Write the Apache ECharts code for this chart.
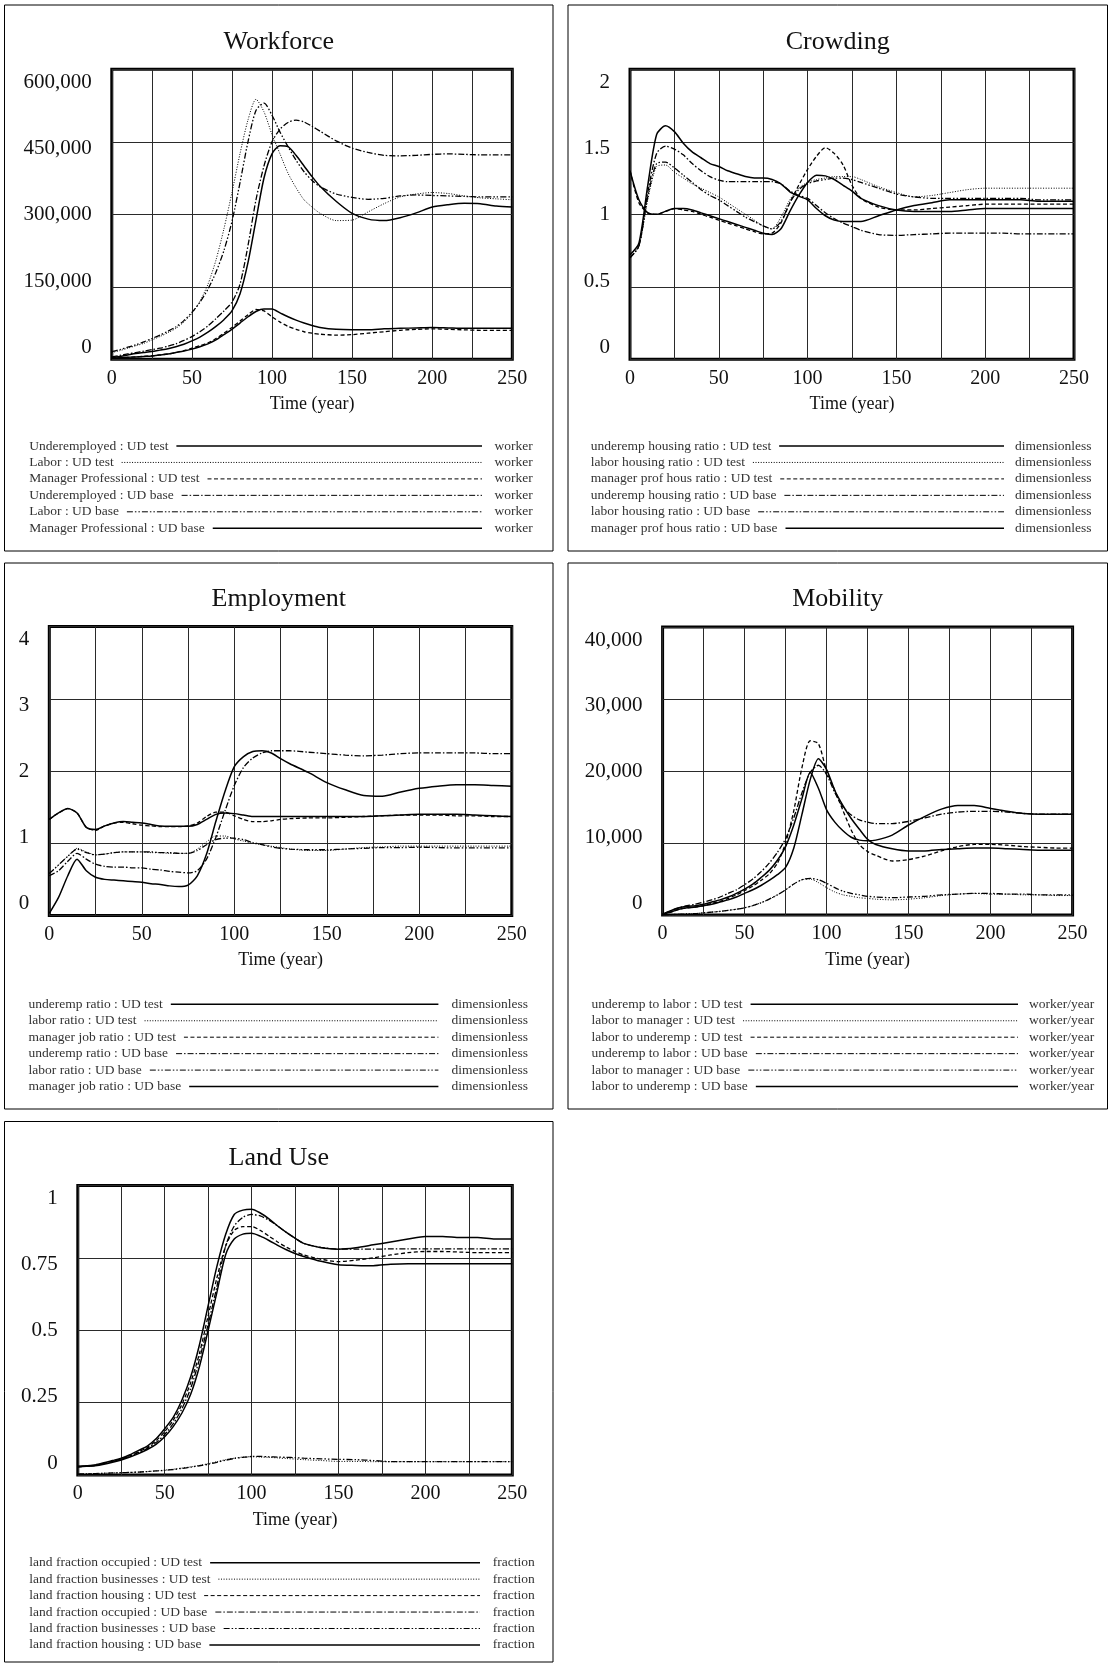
<!DOCTYPE html>
<html><head><meta charset="utf-8">
<script src="https://cdn.jsdelivr.net/npm/echarts@6/dist/echarts.min.js"></script>
<style>html,body{margin:0;padding:0;background:#fff}#c{width:1109px;height:1663px}</style>
</head><body><div id="c"></div>
<script>
// ---------------- DATA ----------------
const TIME = [0,5,10,15,20,25,30,35,40,45,50,55,60,65,70,75,80,85,90,95,100,105,110,115,120,125,130,140,150,160,170,180,190,200,210,220,230,240,250];
const X_TICKS = [0,50,100,150,200,250];

// Workforce (thousand workers)
const WF_TITLE = 'Workforce';
const WF_UNIT = 'worker';
const WF_Y_TICKS = ['0','150,000','300,000','450,000','600,000'];
const WF_NAMES = ['Underemployed : UD test','Labor : UD test','Manager Professional : UD test','Underemployed : UD base','Labor : UD base','Manager Professional : UD base'];
const WF_UNDEREMP_TEST = [3,6,9,12,14,16,19,22,26,31,38,46,56,68,82,100,135,200,288,375,425,442,440,422,400,378,358,327,302,290,287,293,303,315,320,323,322,317,315];
const WF_LABOR_TEST    = [14,18,23,28,33,40,47,55,64,77,95,120,155,205,270,345,425,495,538,512,465,425,385,355,330,315,302,287,288,305,322,336,342,345,343,338,334,332,330];
const WF_MANAGER_TEST  = [2,3,4,5,6,7,9,11,14,18,23,28,34,43,54,66,79,92,103,100,88,77,68,62,57,54,52,50,51,54,57,60,62,63,62,61,60,60,60];
const WF_UNDEREMP_BASE = [5,8,11,14,17,20,23,27,32,39,47,57,69,84,100,118,155,235,330,400,450,476,490,495,491,482,472,452,437,428,422,421,422,424,425,424,423,423,423];
const WF_LABOR_BASE    = [16,20,25,30,36,43,50,58,67,80,97,118,145,180,225,285,365,450,515,530,505,470,440,412,388,370,357,342,335,331,333,338,340,339,338,337,336,336,336];
const WF_MANAGER_BASE  = [2,3,4,5,6,7,9,11,14,17,21,26,32,40,51,62,75,88,99,104,104,96,88,81,75,70,66,62,61,61,63,64,65,66,65,64,64,64,64];

// Crowding (dimensionless)
const CR_TITLE = 'Crowding';
const CR_UNIT = 'dimensionless';
const CR_Y_TICKS = ['0','0.5','1','1.5','2'];
const CR_NAMES = ['underemp housing ratio : UD test','labor housing ratio : UD test','manager prof hous ratio : UD test','underemp housing ratio : UD base','labor housing ratio : UD base','manager prof hous ratio : UD base'];
const CR_UNDEREMP_TEST = [0.72,0.80,1.20,1.55,1.61,1.57,1.49,1.43,1.39,1.35,1.33,1.30,1.28,1.26,1.25,1.25,1.24,1.21,1.155,1.125,1.10,1.04,0.99,0.96,0.95,0.95,0.95,0.99,1.03,1.06,1.08,1.10,1.10,1.10,1.10,1.10,1.09,1.09,1.09];
const CR_LABOR_TEST    = [0.70,0.78,1.10,1.33,1.34,1.29,1.25,1.21,1.18,1.15,1.12,1.08,1.04,1.00,0.96,0.92,0.90,0.98,1.10,1.18,1.22,1.24,1.25,1.26,1.26,1.26,1.24,1.19,1.15,1.12,1.13,1.15,1.17,1.18,1.18,1.18,1.18,1.18,1.18];
const CR_MANAGER_TEST  = [1.30,1.08,1.01,1.00,1.02,1.04,1.03,1.02,1.00,0.98,0.96,0.94,0.92,0.90,0.88,0.865,0.87,0.94,1.08,1.20,1.31,1.40,1.46,1.42,1.34,1.20,1.11,1.05,1.03,1.03,1.04,1.05,1.06,1.07,1.07,1.07,1.07,1.07,1.07];
const CR_UNDEREMP_BASE = [0.70,0.78,1.15,1.42,1.47,1.45,1.41,1.35,1.30,1.26,1.235,1.225,1.225,1.225,1.225,1.225,1.225,1.21,1.16,1.13,1.11,1.06,1.01,0.97,0.94,0.915,0.89,0.86,0.855,0.86,0.865,0.87,0.87,0.87,0.87,0.865,0.865,0.865,0.865];
const CR_LABOR_BASE    = [0.70,0.78,1.12,1.35,1.36,1.32,1.27,1.22,1.17,1.13,1.10,1.06,1.02,0.98,0.95,0.92,0.90,0.95,1.08,1.17,1.21,1.23,1.24,1.25,1.25,1.24,1.22,1.18,1.14,1.12,1.11,1.11,1.11,1.11,1.11,1.11,1.10,1.10,1.10];
const CR_MANAGER_BASE  = [1.30,1.10,1.01,1.00,1.02,1.04,1.04,1.03,1.01,0.99,0.97,0.95,0.93,0.91,0.89,0.87,0.86,0.90,1.02,1.13,1.22,1.27,1.265,1.24,1.20,1.16,1.11,1.06,1.03,1.02,1.02,1.02,1.03,1.04,1.04,1.04,1.04,1.04,1.04];

// Employment (dimensionless)
const EM_TITLE = 'Employment';
const EM_UNIT = 'dimensionless';
const EM_Y_TICKS = ['0','1','2','3','4'];
const EM_NAMES = ['underemp ratio : UD test','labor ratio : UD test','manager job ratio : UD test','underemp ratio : UD base','labor ratio : UD base','manager job ratio : UD base'];
const EM_UNDEREMP_TEST = [0.03,0.25,0.55,0.78,0.62,0.53,0.50,0.49,0.48,0.47,0.46,0.44,0.43,0.41,0.40,0.42,0.55,0.85,1.30,1.72,2.06,2.20,2.27,2.28,2.25,2.17,2.10,1.98,1.84,1.74,1.66,1.65,1.71,1.76,1.79,1.81,1.81,1.80,1.79];
const EM_LABOR_TEST    = [0.58,0.70,0.82,0.93,0.88,0.84,0.85,0.87,0.88,0.88,0.88,0.87,0.87,0.86,0.86,0.86,0.92,1.02,1.10,1.10,1.06,1.03,1.00,0.98,0.96,0.94,0.92,0.90,0.90,0.92,0.94,0.95,0.96,0.96,0.96,0.96,0.96,0.96,0.96];
const EM_MANAGER_TEST  = [1.33,1.42,1.48,1.42,1.22,1.18,1.24,1.28,1.29,1.27,1.25,1.24,1.23,1.23,1.23,1.24,1.28,1.37,1.43,1.43,1.38,1.33,1.30,1.30,1.31,1.33,1.34,1.35,1.35,1.36,1.37,1.38,1.39,1.39,1.39,1.38,1.38,1.37,1.37];
const EM_UNDEREMP_BASE = [0.55,0.62,0.75,0.86,0.78,0.71,0.68,0.67,0.67,0.66,0.66,0.64,0.63,0.61,0.60,0.59,0.62,0.78,1.08,1.45,1.80,2.05,2.18,2.25,2.28,2.28,2.28,2.26,2.24,2.22,2.21,2.22,2.24,2.25,2.25,2.25,2.25,2.24,2.24];
const EM_LABOR_BASE    = [0.58,0.70,0.82,0.92,0.87,0.84,0.85,0.87,0.88,0.88,0.88,0.88,0.87,0.87,0.86,0.86,0.90,0.98,1.05,1.07,1.07,1.05,1.01,0.98,0.95,0.93,0.92,0.91,0.91,0.92,0.93,0.94,0.94,0.945,0.94,0.935,0.935,0.935,0.935];
const EM_MANAGER_BASE  = [1.33,1.42,1.48,1.42,1.22,1.19,1.24,1.28,1.30,1.29,1.28,1.26,1.24,1.235,1.235,1.235,1.26,1.33,1.40,1.42,1.41,1.39,1.37,1.37,1.37,1.37,1.37,1.37,1.37,1.37,1.37,1.38,1.39,1.40,1.40,1.40,1.39,1.38,1.37];

// Mobility (thousand worker/year)
const MO_TITLE = 'Mobility';
const MO_UNIT = 'worker/year';
const MO_Y_TICKS = ['0','10,000','20,000','30,000','40,000'];
const MO_NAMES = ['underemp to labor : UD test','labor to manager : UD test','labor to underemp : UD test','underemp to labor : UD base','labor to manager : UD base','labor to underemp : UD base'];
const MO_UNDEREMP_TO_LABOR_TEST = [0.1,0.6,1.0,1.2,1.3,1.5,1.8,2.1,2.5,3.0,3.6,4.3,5.2,6.2,7.6,9.5,12.5,16.2,19.8,17.6,14.6,12.9,11.7,10.8,10.4,10.3,10.4,11.1,12.5,13.7,14.7,15.2,15.2,14.8,14.4,14.1,14.0,14.0,14.0];
const MO_LABOR_TO_MANAGER_TEST  = [0,0.05,0.1,0.15,0.2,0.3,0.4,0.5,0.65,0.8,1.0,1.3,1.7,2.2,2.8,3.5,4.3,4.9,5.0,4.5,3.8,3.2,2.8,2.6,2.4,2.3,2.2,2.1,2.2,2.4,2.7,2.9,3.0,2.9,2.9,2.8,2.8,2.7,2.7];
const MO_LABOR_TO_UNDEREMP_TEST = [0.1,0.4,0.8,1.0,1.1,1.3,1.6,1.9,2.3,2.8,3.4,4.0,4.8,5.7,7.2,10.0,14.5,20.5,24.2,23.8,20.0,17.3,14.5,11.8,9.8,8.8,8.3,7.5,7.7,8.2,8.9,9.5,9.8,9.8,9.7,9.5,9.4,9.3,9.3];
const MO_UNDEREMP_TO_LABOR_BASE = [0.1,0.6,1.0,1.3,1.5,1.8,2.1,2.5,3.0,3.5,4.2,5.0,6.0,7.2,8.7,10.6,13.5,17.0,19.8,20.8,19.5,17.0,15.0,13.9,13.2,12.9,12.7,12.7,13.0,13.5,14.0,14.3,14.4,14.4,14.3,14.1,14.0,14.0,14.0];
const MO_LABOR_TO_MANAGER_BASE  = [0,0.05,0.1,0.15,0.2,0.3,0.4,0.5,0.65,0.8,1.0,1.3,1.7,2.2,2.8,3.5,4.3,4.9,5.1,4.9,4.4,3.8,3.3,3.0,2.8,2.6,2.5,2.4,2.5,2.6,2.8,2.9,3.0,3.0,2.9,2.9,2.8,2.8,2.8];
const MO_LABOR_TO_UNDEREMP_BASE = [0.1,0.4,0.8,1.0,1.1,1.3,1.5,1.8,2.1,2.5,3.0,3.5,4.1,4.8,5.6,6.6,9.3,14.0,18.8,21.7,20.2,17.3,15.2,13.4,11.9,10.5,9.8,9.2,8.9,8.9,9.1,9.2,9.3,9.3,9.2,9.1,9.0,9.0,9.0];

// Land Use (fraction)
const LU_TITLE = 'Land Use';
const LU_UNIT = 'fraction';
const LU_Y_TICKS = ['0','0.25','0.5','0.75','1'];
const LU_NAMES = ['land fraction occupied : UD test','land fraction businesses : UD test','land fraction housing : UD test','land fraction occupied : UD base','land fraction businesses : UD base','land fraction housing : UD base'];
const LU_OCCUPIED_TEST   = [0.030,0.032,0.035,0.042,0.050,0.058,0.070,0.085,0.100,0.125,0.160,0.200,0.260,0.340,0.450,0.585,0.720,0.830,0.900,0.915,0.918,0.905,0.885,0.860,0.838,0.818,0.800,0.785,0.780,0.785,0.795,0.805,0.815,0.824,0.824,0.820,0.820,0.815,0.815];
const LU_BUSINESSES_TEST = [0.003,0.004,0.005,0.006,0.007,0.008,0.009,0.010,0.012,0.014,0.017,0.020,0.024,0.028,0.033,0.039,0.046,0.053,0.058,0.062,0.063,0.062,0.061,0.059,0.057,0.055,0.053,0.050,0.047,0.047,0.046,0.046,0.046,0.046,0.046,0.046,0.046,0.046,0.046];
const LU_HOUSING_TEST    = [0.028,0.030,0.033,0.040,0.048,0.056,0.067,0.080,0.095,0.118,0.150,0.190,0.245,0.320,0.420,0.550,0.680,0.790,0.845,0.858,0.858,0.845,0.825,0.805,0.787,0.772,0.760,0.745,0.737,0.742,0.750,0.760,0.768,0.772,0.772,0.770,0.768,0.768,0.768];
const LU_OCCUPIED_BASE   = [0.030,0.031,0.034,0.040,0.047,0.055,0.065,0.078,0.092,0.112,0.140,0.178,0.230,0.300,0.400,0.520,0.650,0.790,0.860,0.890,0.900,0.895,0.880,0.860,0.838,0.818,0.800,0.786,0.780,0.780,0.780,0.781,0.781,0.781,0.781,0.781,0.781,0.781,0.781];
const LU_BUSINESSES_BASE = [0.003,0.004,0.005,0.006,0.007,0.008,0.009,0.010,0.012,0.014,0.016,0.019,0.023,0.027,0.032,0.037,0.044,0.051,0.057,0.061,0.064,0.064,0.063,0.062,0.061,0.060,0.058,0.056,0.054,0.053,0.050,0.046,0.046,0.046,0.046,0.046,0.046,0.046,0.046];
const LU_HOUSING_BASE    = [0.028,0.030,0.032,0.037,0.044,0.052,0.062,0.074,0.088,0.106,0.132,0.168,0.215,0.280,0.375,0.500,0.630,0.760,0.815,0.832,0.835,0.825,0.810,0.793,0.778,0.765,0.755,0.738,0.726,0.724,0.723,0.728,0.730,0.730,0.730,0.730,0.730,0.730,0.730];

// ---------------- PANELS (data wiring) ----------------
const PANELS = [
  {title: WF_TITLE, unit: WF_UNIT, yMax: 600000, yTicks: WF_Y_TICKS, names: WF_NAMES, scale: 1000,
   series: [WF_UNDEREMP_TEST, WF_LABOR_TEST, WF_MANAGER_TEST, WF_UNDEREMP_BASE, WF_LABOR_BASE, WF_MANAGER_BASE]},
  {title: CR_TITLE, unit: CR_UNIT, yMax: 2, yTicks: CR_Y_TICKS, names: CR_NAMES, scale: 1,
   series: [CR_UNDEREMP_TEST, CR_LABOR_TEST, CR_MANAGER_TEST, CR_UNDEREMP_BASE, CR_LABOR_BASE, CR_MANAGER_BASE]},
  {title: EM_TITLE, unit: EM_UNIT, yMax: 4, yTicks: EM_Y_TICKS, names: EM_NAMES, scale: 1,
   series: [EM_UNDEREMP_TEST, EM_LABOR_TEST, EM_MANAGER_TEST, EM_UNDEREMP_BASE, EM_LABOR_BASE, EM_MANAGER_BASE]},
  {title: MO_TITLE, unit: MO_UNIT, yMax: 40000, yTicks: MO_Y_TICKS, names: MO_NAMES, scale: 1000,
   series: [MO_UNDEREMP_TO_LABOR_TEST, MO_LABOR_TO_MANAGER_TEST, MO_LABOR_TO_UNDEREMP_TEST, MO_UNDEREMP_TO_LABOR_BASE, MO_LABOR_TO_MANAGER_BASE, MO_LABOR_TO_UNDEREMP_BASE]},
  {title: LU_TITLE, unit: LU_UNIT, yMax: 1, yTicks: LU_Y_TICKS, names: LU_NAMES, scale: 1,
   series: [LU_OCCUPIED_TEST, LU_BUSINESSES_TEST, LU_HOUSING_TEST, LU_OCCUPIED_BASE, LU_BUSINESSES_BASE, LU_HOUSING_BASE]}
];

// ---------------- LAYOUT & STYLE ----------------
const LAYOUT = [
  {box:[4.5,5,548.5,546],    grid:[111.8,69.3,400.5,290],  titleY:41.7,   leg:{x:29.3, y0:446,    lineEnd:482,   unitX:494.6}},
  {box:[568,5,539.5,546],    grid:[630,69.3,444,290],      titleY:41.7,   leg:{x:590.8,y0:446,    lineEnd:1004,  unitX:1015}},
  {box:[4.5,563,548.5,546],  grid:[49.3,626.5,462.5,289],  titleY:599.5,  leg:{x:28.6, y0:1004.3, lineEnd:438.4, unitX:451.6}},
  {box:[568,563,539.5,546],  grid:[662.6,627,410,288],     titleY:599.5,  leg:{x:591.5,y0:1004.3, lineEnd:1018,  unitX:1029}},
  {box:[4.5,1121.5,548.5,540.5], grid:[77.8,1185.5,434.5,289.5], titleY:1158.3, leg:{x:29.3, y0:1562.7, lineEnd:480, unitX:492.7}}
];
const LINE_STYLES = [
  {type:'solid', width:1.5, dash:null},
  {type:[1,1.6], width:1, dash:[1,1.6]},
  {type:[4,2.5], width:1.3, dash:[4,2.5]},
  {type:[6,2,1.5,2], width:1.3, dash:[6,2,1.5,2]},
  {type:[6,2,1.5,2,1.5,2], width:1.3, dash:[6,2,1.5,2,1.5,2]},
  {type:'solid', width:1.5, dash:null}
];
const FONT = '"Liberation Serif","Times New Roman",serif';
const LEG_FONT = '13.5px "Liberation Serif"';
const ROW_STEP = 16.45;

const mctx = document.createElement('canvas').getContext('2d');
function textW(s){ mctx.font = LEG_FONT; return mctx.measureText(s).width; }

const grids = [], xAxes = [], yAxes = [], series = [], elements = [];
PANELS.forEach((p, i) => {
  const L = LAYOUT[i];
  const [gl, gt, gw, gh] = L.grid;
  grids.push({left: gl, top: gt, width: gw, height: gh, show: true, borderColor: '#000', borderWidth: 3, backgroundColor: 'transparent'});
  xAxes.push({
    gridIndex: i, type: 'value', min: 0, max: 250, interval: 25,
    axisLine: {show: false}, axisTick: {show: false},
    splitLine: {show: true, lineStyle: {color: '#2a2a2a', width: 1}},
    axisLabel: {customValues: X_TICKS, margin: 9, fontSize: 20, fontFamily: FONT, color: '#111'},
    name: 'Time (year)', nameLocation: 'middle', nameGap: 36,
    nameTextStyle: {fontSize: 18, fontFamily: FONT, color: '#111'}
  });
  // data axis
  yAxes.push({
    gridIndex: i, type: 'value', min: 0, max: p.yMax, interval: p.yMax / 4,
    axisLine: {show: false}, axisTick: {show: false}, axisLabel: {show: false},
    splitLine: {show: true, lineStyle: {color: '#2a2a2a', width: 1}}
  });
  // label axis (labels placed evenly but inset, like the original)
  const step = (gh - 25) / 4;
  const pos = p.yTicks.map((_, k) => (12 + k * step) / gh);
  yAxes.push({
    gridIndex: i, type: 'value', min: 0, max: 1, position: 'left',
    axisLine: {show: false}, axisTick: {show: false}, splitLine: {show: false},
    axisLabel: {
      customValues: pos, margin: 20, fontSize: 21, fontFamily: FONT, color: '#111',
      formatter: (v) => { const k = pos.findIndex(q => Math.abs(q - v) < 1e-6); return k >= 0 ? p.yTicks[k] : ''; }
    }
  });
  p.series.forEach((vals, s) => {
    const st = LINE_STYLES[s];
    series.push({
      type: 'line', name: p.names[s], xAxisIndex: i, yAxisIndex: 2 * i,
      showSymbol: false, smooth: 0.25, animation: false,
      lineStyle: {color: '#000', width: st.width, type: st.type},
      data: TIME.map((t, k) => [t, vals[k] * p.scale])
    });
  });
  // box
  const [bx, by, bw, bh] = L.box;
  elements.push({type: 'rect', shape: {x: bx, y: by, width: bw, height: bh}, style: {fill: 'none', stroke: '#000', lineWidth: 1}, silent: true});
  // title
  elements.push({type: 'text', x: bx + bw / 2, y: L.titleY, style: {text: p.title, font: '26px "Liberation Serif"', fill: '#111', textAlign: 'center', textVerticalAlign: 'middle', align: 'center', verticalAlign: 'middle'}, silent: true});
  // legend rows
  p.names.forEach((nm, s) => {
    const y = L.leg.y0 + s * ROW_STEP;
    const st = LINE_STYLES[s];
    elements.push({type: 'text', x: L.leg.x, y: y, style: {text: nm, font: LEG_FONT, fill: '#333', textAlign: 'left', textVerticalAlign: 'middle', align: 'left', verticalAlign: 'middle'}, silent: true});
    const x1 = L.leg.x + textW(nm) + 8;
    elements.push({type: 'line', shape: {x1: x1, y1: y, x2: L.leg.lineEnd, y2: y},
      style: {stroke: '#000', lineWidth: st.dash ? 1 : 1.6, lineDash: st.dash || null}, silent: true});
    elements.push({type: 'text', x: L.leg.unitX, y: y, style: {text: p.unit, font: LEG_FONT, fill: '#333', textAlign: 'left', textVerticalAlign: 'middle', align: 'left', verticalAlign: 'middle'}, silent: true});
  });
});

const chart = echarts.init(document.getElementById('c'), null, {renderer: 'canvas'});
chart.setOption({
  animation: false,
  backgroundColor: '#fff',
  grid: grids, xAxis: xAxes, yAxis: yAxes, series: series,
  graphic: {elements: elements}
});
</script>
</body></html>
